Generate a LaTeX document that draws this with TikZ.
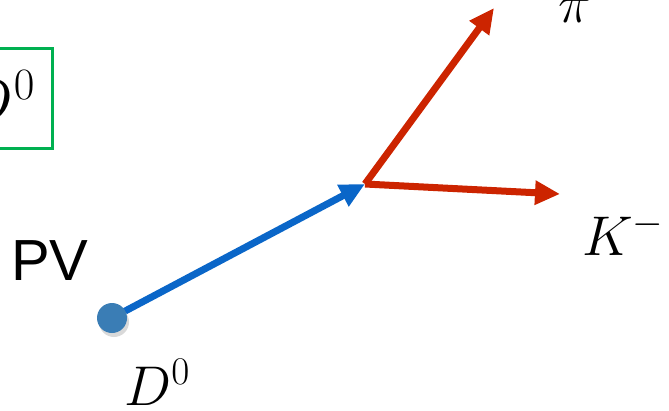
\RequirePackage{fix-cm}
\documentclass[tikz,border=0pt]{standalone}
\usepackage{fontspec}
\newfontfamily\pvfont{Liberation Sans}
\usetikzlibrary{arrows.meta}
\definecolor{trackblue}{RGB}{10,102,200}
\definecolor{trackred}{RGB}{204,36,0}
\definecolor{pvblue}{RGB}{58,125,181}
\definecolor{boxgreen}{RGB}{0,176,80}
\tikzset{
	track/.style={line width=7pt,-{Triangle[length=25pt,width=23pt]}},
	lbl/.style={inner sep=0pt,font=\fontsize{56}{60}\selectfont}
}
\begin{document}
\begin{tikzpicture}[x=1pt,y=-1pt]
	\useasboundingbox (0,0) rectangle (669,410);
	\clip (0,0) rectangle (669,410);
	% tagged meson box
	\draw[boxgreen,line width=3pt] (-200,48) rectangle (52,148);
	\node[lbl,anchor=base east,font=\fontsize{64}{68}\selectfont] (tag) at (35,123) {$D^0$};
	% primary vertex and decay vertex
	\coordinate (pvc) at (112,318);
	\coordinate (vtx) at (365,184);
	\coordinate (pitip) at (494,8);
	\coordinate (ktip) at (560,194);
	\draw[track,trackblue] (pvc) -- (vtx);
	\draw[track,trackred] (vtx) -- (pitip);
	\draw[track,trackred] (vtx) -- (ktip);
	\fill[black!15] (114,322) circle (15pt);
	\node[circle,fill=pvblue,minimum size=30pt,inner sep=0pt] (pv) at (pvc) {};
	% labels
	\node[inner sep=0pt,anchor=base west] (pvlbl) at (11,280) {\pvfont\fontsize{58}{62}\selectfont PV};
	\node[lbl,anchor=base west] (dlbl) at (124,405) {$D^0$};
	\node[lbl,anchor=base west] (klbl) at (582,255) {$K^-$};
	\node[lbl,anchor=base west] (pilbl) at (558,22) {$\pi$};
\end{tikzpicture}
\end{document}
